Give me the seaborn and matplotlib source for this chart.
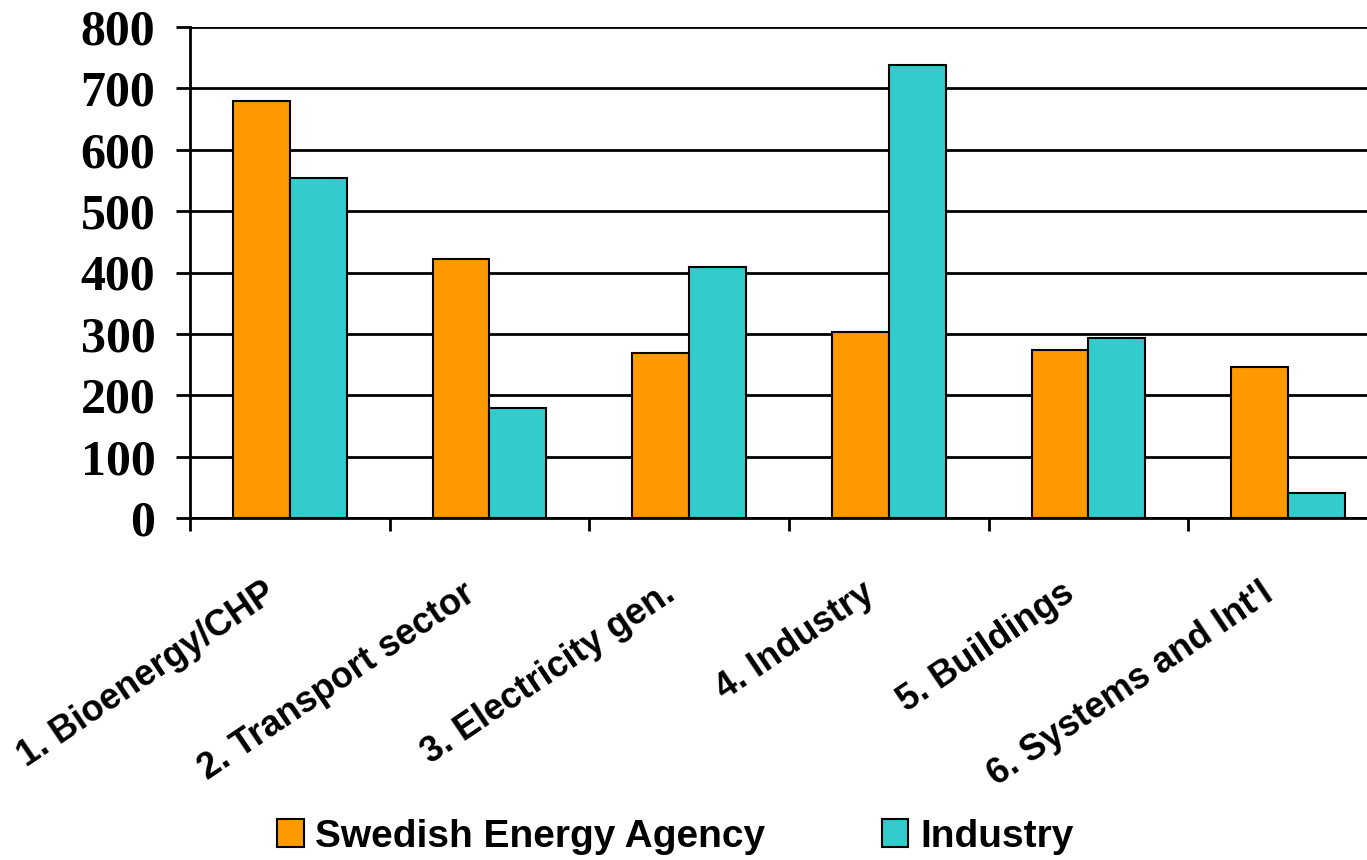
import numpy as np
import pandas as pd
import matplotlib
matplotlib.use('Agg')
import matplotlib.pyplot as plt
import matplotlib.transforms as mtransforms
import seaborn as sns

CATEGORIES = [
    '1. Bioenergy/CHP',
    '2. Transport sector',
    '3. Electricity gen.',
    '4. Industry',
    '5. Buildings',
    "6. Systems and Int'l",
]
SERIES = ['Swedish Energy Agency', 'Industry']
SWEDISH_AGENCY = [680, 422, 269, 303, 274, 246]
INDUSTRY = [554, 179, 409, 738, 293, 41]
Y_TICKS = [0, 100, 200, 300, 400, 500, 600, 700, 800]

COLORS = {'Swedish Energy Agency': '#FF9900', 'Industry': '#33CCCC'}

df = pd.DataFrame({
    'category': CATEGORIES * 2,
    'source': [SERIES[0]] * len(CATEGORIES) + [SERIES[1]] * len(CATEGORIES),
    'value': SWEDISH_AGENCY + INDUSTRY,
})

sns.set_style('white')
plt.rcParams.update({
    'text.color': 'black',
    'xtick.color': 'black',
    'ytick.color': 'black',
    'axes.labelcolor': 'black',
})

fig = plt.figure(figsize=(13.67, 8.6), dpi=100)
ax = fig.add_axes([190 / 1367, 1 - 518 / 860, 1198 / 1367, 491 / 860])

sns.barplot(
    data=df, x='category', y='value', hue='source',
    order=CATEGORIES, hue_order=SERIES, palette=COLORS,
    width=0.57, gap=0, edgecolor='black', linewidth=1.5,
    saturation=1, ax=ax, zorder=3,
)

ax.set_xlim(-0.5, 5.5)
ax.set_ylim(0, 800)
ax.set_xlabel('')
ax.set_ylabel('')

# horizontal gridlines
ax.set_yticks(Y_TICKS)
ax.yaxis.grid(True, color='black', linewidth=2, zorder=0)
ax.set_axisbelow(True)

for side in ['top', 'right']:
    ax.spines[side].set_visible(False)
for side in ['left', 'bottom']:
    ax.spines[side].set_linewidth(2)
    ax.spines[side].set_color('black')

ax.tick_params(axis='y', direction='out', length=10, width=2, pad=15, left=True)
for lbl in ax.get_yticklabels():
    lbl.set_fontfamily('Liberation Serif')
    lbl.set_fontweight('bold')
    lbl.set_fontsize(36)
    lbl.set_color('black')

# x: tick marks at category boundaries, labels at centres
ax.set_xticks(np.arange(len(CATEGORIES)))
ax.set_xticks(np.arange(len(CATEGORIES)) - 0.5, minor=True)
ax.tick_params(axis='x', which='major', length=0, pad=52)
ax.tick_params(axis='x', which='minor', direction='out', length=9, width=2, bottom=True)
ax.set_xticklabels(CATEGORIES, rotation=34, ha='right', va='center',
                   rotation_mode='anchor', fontfamily='Liberation Sans',
                   fontweight='bold', fontsize=26, color='black')
offset = mtransforms.ScaledTranslation(-18 / 100, 0, fig.dpi_scale_trans)
for lbl in ax.get_xticklabels():
    lbl.set_transform(lbl.get_transform() + offset)

handles, labels = ax.get_legend_handles_labels()
ax.legend_.remove()
fig.legend(
    handles, labels, loc='center', bbox_to_anchor=(0.494, 0.027), ncol=2,
    frameon=False, prop={'family': 'Liberation Sans', 'weight': 'bold', 'size': 28},
    handlelength=0.68, handleheight=0.72, handletextpad=0.3, columnspacing=3.0,
)

fig.savefig('out.png', dpi=100)
